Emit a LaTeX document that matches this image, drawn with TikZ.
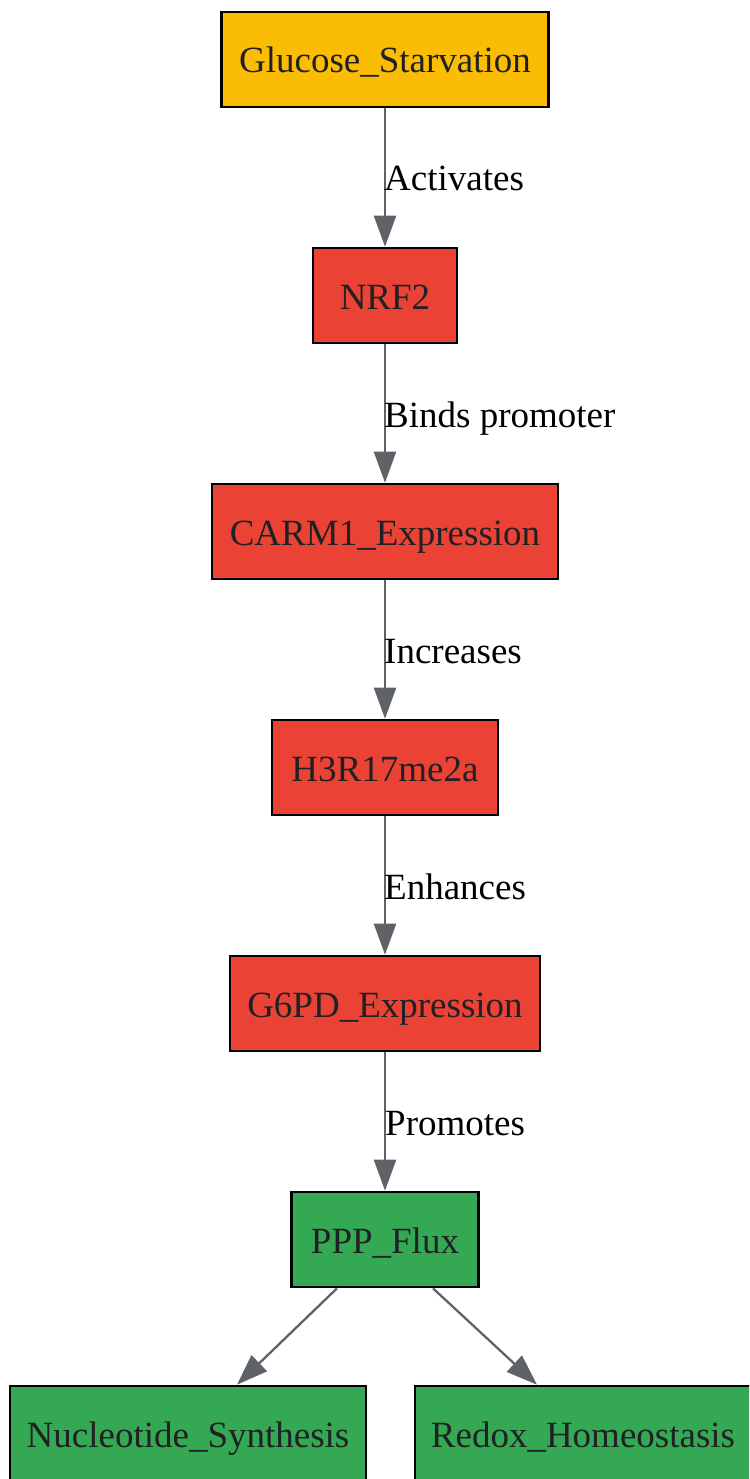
\documentclass[tikz,border=0pt]{standalone}
\usepackage{fontspec}
\setmainfont{Liberation Serif}
\usetikzlibrary{arrows.meta}
\definecolor{gyellow}{HTML}{FBBC04}
\definecolor{gred}{HTML}{EA4335}
\definecolor{ggreen}{HTML}{34A853}
\definecolor{edgegray}{HTML}{5F6368}
\definecolor{txtdark}{HTML}{202124}
\tikzset{
  box/.style={draw=black, line width=2.6pt, rectangle, minimum height=95pt, inner sep=0pt,
    text height=27pt, text depth=0pt,
    text=txtdark, font=\fontsize{37}{44}\selectfont},
  conn/.style={draw=edgegray, line width=2.3pt, -{Triangle[length=31pt,width=22pt]}},
  elabel/.style={anchor=base west, inner sep=0pt, text=black, font=\fontsize{37}{44}\selectfont}
}
\begin{document}
\begin{tikzpicture}[x=1pt,y=-1pt]
\useasboundingbox (0,0) rectangle (749,1479);
\clip (0,0) rectangle (749,1479);
\node[box, fill=gyellow, minimum width=327pt] (gs) at (385,59.5) {Glucose\_Starvation};
\node[box, fill=gred, minimum width=144pt] (nrf) at (385,295.5) {NRF2};
\node[box, fill=gred, minimum width=346pt] (carm) at (385,531.5) {CARM1\_Expression};
\node[box, fill=gred, minimum width=226pt] (h3) at (385,767.5) {H3R17me2a};
\node[box, fill=gred, minimum width=310pt] (g6pd) at (385,1003.5) {G6PD\_Expression};
\node[box, fill=ggreen, minimum width=187pt] (ppp) at (385,1239.5) {PPP\_Flux};
\node[box, fill=ggreen, minimum width=356pt] (nuc) at (188,1433.5) {Nucleotide\_Synthesis};
\node[box, fill=ggreen, minimum width=336pt] (redox) at (583,1433.5) {Redox\_Homeostasis};

\draw[conn] (gs.south) -- (nrf.north);
\draw[conn] (nrf.south) -- (carm.north);
\draw[conn] (carm.south) -- (h3.north);
\draw[conn] (h3.south) -- (g6pd.north);
\draw[conn] (g6pd.south) -- (ppp.north);
\draw[conn] ([xshift=-48pt]ppp.south) -- ([xshift=49pt]nuc.north);
\draw[conn] ([xshift=48pt]ppp.south) -- ([xshift=-46pt]redox.north);

\node[elabel] (l1) at (384,191) {Activates};
\node[elabel] (l2) at (384,427) {Binds promoter};
\node[elabel] (l3) at (384,663) {Increases};
\node[elabel] (l4) at (384,899) {Enhances};
\node[elabel] (l5) at (385,1135) {Promotes};
\end{tikzpicture}
\end{document}
